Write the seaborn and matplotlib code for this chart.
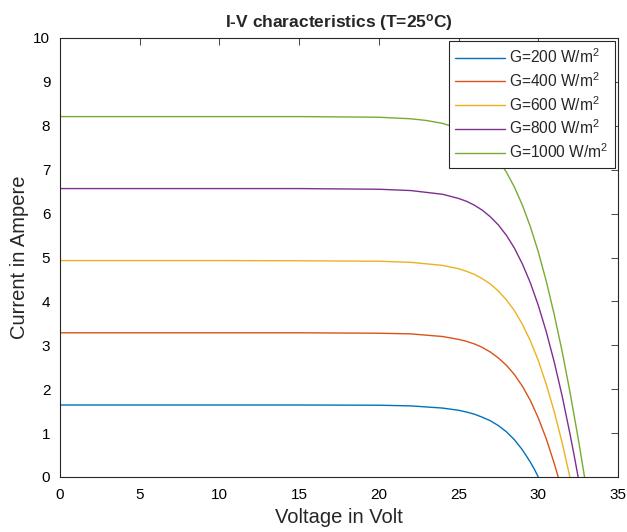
import numpy as np
import pandas as pd
import matplotlib
matplotlib.use("Agg")
import matplotlib.pyplot as plt
import seaborn as sns

# I-V curves (T = 25 C), one pair of arrays per irradiance
v_200 = [0, 5, 10, 15, 20, 22, 24, 25, 25.5, 26, 26.5, 27, 27.5, 28, 28.5, 29, 29.5, 29.75, 30.0]
i_200 = [1.64, 1.64, 1.64, 1.64, 1.635, 1.62, 1.57, 1.52, 1.48, 1.43, 1.36, 1.28, 1.17, 1.03, 0.85, 0.62, 0.34, 0.18, 0]

v_400 = [0, 5, 10, 15, 20, 22, 24, 25, 25.5, 26, 26.5, 27, 27.5, 28, 28.5, 29, 29.5, 30, 30.5, 31, 31.25]
i_400 = [3.285, 3.285, 3.285, 3.285, 3.275, 3.26, 3.20, 3.135, 3.09, 3.03, 2.95, 2.845, 2.71, 2.545, 2.335, 2.07, 1.745, 1.345, 0.87, 0.31, 0]

v_600 = [0, 5, 10, 15, 20, 22, 24, 25, 25.5, 26, 26.5, 27, 27.5, 28, 28.5, 29, 29.5, 30, 30.5, 31, 31.5, 31.98]
i_600 = [4.93, 4.93, 4.93, 4.925, 4.915, 4.89, 4.82, 4.745, 4.685, 4.615, 4.515, 4.395, 4.235, 4.035, 3.79, 3.48, 3.105, 2.655, 2.11, 1.49, 0.775, 0]

v_800 = [0, 5, 10, 15, 20, 22, 24, 25, 25.5, 26, 26.5, 27, 27.5, 28, 28.5, 29, 29.5, 30, 30.5, 31, 31.5, 32, 32.25, 32.5]
i_800 = [6.57, 6.57, 6.57, 6.57, 6.555, 6.525, 6.44, 6.345, 6.28, 6.19, 6.075, 5.925, 5.74, 5.505, 5.215, 4.855, 4.425, 3.91, 3.31, 2.62, 1.84, 0.96, 0.49, 0]

v_1000 = [0, 5, 10, 15, 20, 22, 23, 24, 25, 25.5, 26, 26.5, 27, 27.5, 28, 28.5, 29, 29.5, 30, 30.5, 31, 31.5, 32, 32.5, 32.7, 32.9]
i_1000 = [8.21, 8.21, 8.21, 8.21, 8.195, 8.16, 8.12, 8.055, 7.94, 7.86, 7.75, 7.615, 7.44, 7.215, 6.945, 6.605, 6.195, 5.705, 5.13, 4.46, 3.70, 2.855, 1.91, 0.885, 0.445, 0]

labels = ["G=200 W/m$^2$", "G=400 W/m$^2$", "G=600 W/m$^2$", "G=800 W/m$^2$", "G=1000 W/m$^2$"]
colors = ["#0072BD", "#D95319", "#EDB120", "#7E2F8E", "#77AC30"]

curves = [(v_200, i_200), (v_400, i_400), (v_600, i_600), (v_800, i_800), (v_1000, i_1000)]
df = pd.concat([pd.DataFrame({"V": v, "I": i, "G": lab}) for (v, i), lab in zip(curves, labels)],
               ignore_index=True)

sns.set_theme(style="white")
plt.rcParams["font.family"] = ["Liberation Sans", "DejaVu Sans"]
plt.rcParams["mathtext.fontset"] = "custom"
plt.rcParams["mathtext.rm"] = "Liberation Sans"
plt.rcParams["mathtext.it"] = "Liberation Sans"
plt.rcParams["mathtext.bf"] = "Liberation Sans:bold"

fig = plt.figure(figsize=(6.27, 5.32), dpi=100)
ax = fig.add_axes([60 / 627, 1 - 477 / 532, 558 / 627, 439 / 532])

sns.lineplot(data=df, x="V", y="I", hue="G", hue_order=labels, palette=colors,
             linewidth=1.0, sort=False, estimator=None, ax=ax)

ax.set_xlim(0, 35)
ax.set_ylim(0, 10)
ax.set_xticks(np.arange(0, 36, 5))
ax.set_yticks(np.arange(0, 11, 1))

dark = "#262626"
for s in ax.spines.values():
    s.set_color(dark)
    s.set_linewidth(0.8)
ax.tick_params(direction="in", top=True, right=True, length=5, width=0.6,
               color=dark, labelcolor="black", labelsize=11)
ax.tick_params(axis="x", pad=8)
ax.tick_params(axis="y", pad=7)

ax.set_xlabel("Voltage in Volt", fontsize=14.5, labelpad=4)
ax.set_ylabel("Current in Ampere", fontsize=14.5, labelpad=3)
ax.set_title(r"I-V characteristics (T=25$\mathbf{^o}$C)", fontsize=12.5, fontweight="bold", pad=8)

# legend box placed where the reference has it (axes fractions)
handles, labs = ax.get_legend_handles_labels()
leg = ax.legend(handles, labs, loc="upper left", bbox_to_anchor=(0.697, 0.5, 0.2975, 0.493),
                mode="expand", borderaxespad=0, fontsize=11.2, frameon=True, fancybox=False,
                framealpha=1, edgecolor=dark, handlelength=3.2, handletextpad=0.26,
                labelspacing=0.33, borderpad=0.4)
leg.get_frame().set_linewidth(0.8)
for h in leg.get_lines():
    h.set_linewidth(1.0)

fig.savefig("out.png", dpi=100, facecolor="white")
